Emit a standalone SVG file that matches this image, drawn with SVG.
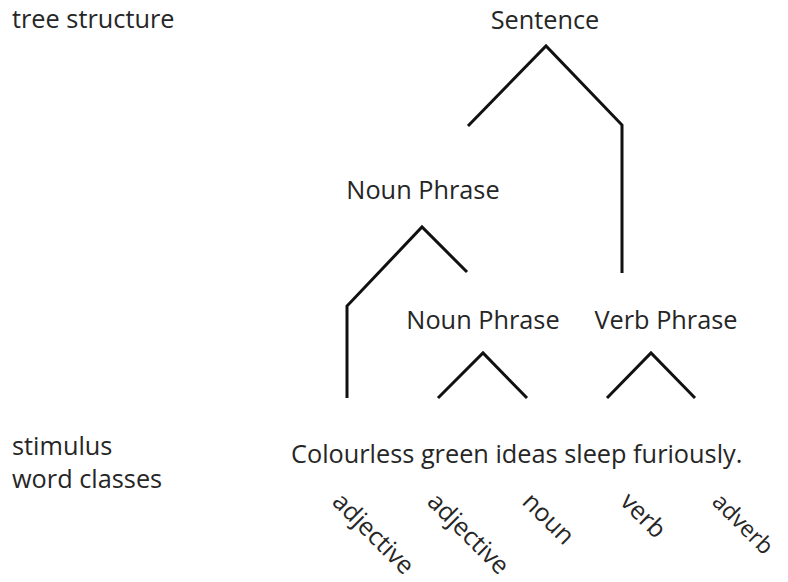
<svg xmlns="http://www.w3.org/2000/svg" width="788" height="582" viewBox="0 0 788 582">
<style>
text{font-family:"Open Sans","Liberation Sans",sans-serif;font-size:25.3px;fill:#262626}
.c{text-anchor:middle}
.w{font-size:25px}
.e{fill:none;stroke:#111;stroke-width:3;stroke-linejoin:miter;stroke-linecap:butt}
</style>
<rect width="788" height="582" fill="#fff"/>
<g id="labels">
<text x="12" y="28">tree structure</text>
<text x="12" y="455">stimulus</text>
<text x="12" y="488">word classes</text>
</g>
<g id="sentence"><text class="c" x="545" y="29">Sentence</text></g>
<g id="np1"><text class="c" x="423" y="199">Noun Phrase</text></g>
<g id="np2"><text class="c" x="483" y="329">Noun Phrase</text></g>
<g id="vp"><text class="c" x="666" y="329">Verb Phrase</text></g>
<g id="stimulus"><text x="291" y="463">Colourless green ideas sleep furiously.</text></g>
<g id="wordclasses">
<text class="w" transform="translate(331,503) rotate(45)">adjective</text>
<text class="w" transform="translate(426,503) rotate(45)">adjective</text>
<text class="w" transform="translate(521,503) rotate(45)">noun</text>
<text class="w" transform="translate(619,503) rotate(45)">verb</text>
<text class="w" style="font-size:23px" transform="translate(711,503) rotate(45)">adverb</text>
</g>
<g id="connectors">
<polyline class="e" points="468,126 546,46 622,125 622,273"/>
<polyline class="e" points="347,398 347,306 422,227 467,272"/>
<polyline class="e" points="438,398 483,353 527,398"/>
<polyline class="e" points="607,398 651,353 695,398"/>
</g>
</svg>
